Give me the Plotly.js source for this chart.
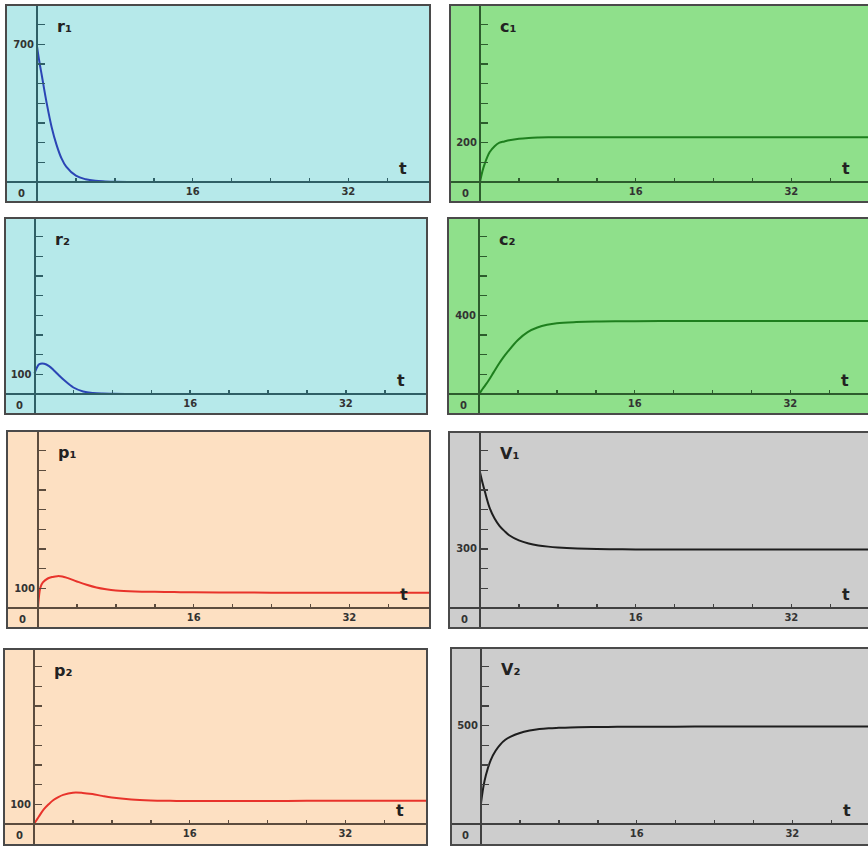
<!DOCTYPE html>
<html><head><meta charset="utf-8">
<script src="https://cdn.plot.ly/plotly-3.0.1.min.js"></script>
<style>html,body{margin:0;padding:0;background:#fff}#chart{width:868px;height:847px}</style>
</head><body><div id="chart"></div>
<script>
// ---- data ----
const t  = [0, 0.25, 0.5, 1, 1.5, 2, 2.5, 3, 4, 5, 6, 7, 8, 10, 12, 14, 16, 20, 24, 28, 32, 36, 41];
const r1 = [690, 610, 540, 400, 280, 190, 122, 78, 32, 14, 6, 3, 1, 0, 0, 0, 0, 0, 0, 0, 0, 0, 0];
const r2 = [105, 135, 152, 154, 142, 120, 95, 72, 33, 13, 5, 2, 1, 0, 0, 0, 0, 0, 0, 0, 0, 0, 0];
const c1 = [0, 55, 95, 152, 182, 200, 206, 212, 220, 224, 226, 227, 227, 227, 227, 227, 227, 227, 227, 227, 227, 227, 227];
const c2 = [0, 17, 35, 70, 110, 150, 186, 218, 275, 315, 338, 352, 360, 366, 369, 370, 370, 371, 371, 371, 371, 371, 371];
const p1 = [0, 105, 130, 150, 158, 162, 160, 153, 135, 118, 104, 95, 89, 84, 82, 81, 80, 79, 78, 78, 78, 78, 78];
const p2 = [0, 19, 38, 74, 100, 122, 137, 148, 159, 158, 152, 143, 135, 125, 120, 118, 117, 117, 117, 118, 118, 118, 118];
const V1 = [690, 638, 592, 508, 455, 418, 392, 370, 344, 328, 318, 312, 308, 303, 300, 299, 298, 298, 298, 298, 298, 298, 298];
const V2 = [105, 190, 248, 325, 372, 405, 428, 443, 463, 475, 483, 487, 489, 492, 493, 494, 494, 495, 496, 496, 496, 496, 496];

const seriesNames  = ['r₁', 'c₁', 'r₂', 'c₂', 'p₁', 'V₁', 'p₂', 'V₂'];
const seriesData   = [r1, c1, r2, c2, p1, V1, p2, V2];
const yLabelled    = [700, 200, 100, 400, 100, 300, 100, 500];
const xLabelTicks  = [16, 32];
const xMinorTicks  = [4, 8, 12, 20, 24, 28, 36];
const yMinorTicks  = [100, 200, 300, 400, 500, 600, 700, 800];
const originLabel  = '0';
const timeLabel    = 't';

// ---- styling / geometry ----
const W = 868, H = 847;
const SX = 9.73, SY = 0.1967; // px per unit
const themes = {
  r: {bg: '#b6e9ea', axis: '#2f5f66', line: '#2b45b5'},
  c: {bg: '#8fe08b', axis: '#2d5c2d', line: '#1e7f1e'},
  p: {bg: '#fde0c2', axis: '#5c4c3e', line: '#e8332b'},
  V: {bg: '#cdcdcd', axis: '#404040', line: '#1e1e1e'}
};
const panels = [
  {th: 'r', L: 6,   R: 430, T: 5,   B: 202, ax: 37,   ay: 182, right: false},
  {th: 'c', L: 450, R: 868, T: 5,   B: 202, ax: 480,  ay: 182, right: true},
  {th: 'r', L: 5,   R: 427, T: 218, B: 414, ax: 34.5, ay: 394, right: false},
  {th: 'c', L: 448, R: 868, T: 218, B: 414, ax: 479,  ay: 394, right: true},
  {th: 'p', L: 7,   R: 430, T: 431, B: 628, ax: 38,   ay: 608, right: false},
  {th: 'V', L: 449, R: 868, T: 432, B: 628, ax: 480,  ay: 608, right: true},
  {th: 'p', L: 4,   R: 427, T: 649, B: 845, ax: 34,   ay: 824, right: false},
  {th: 'V', L: 451, R: 868, T: 648, B: 845, ax: 481,  ay: 824, right: true}
];
const fx = x => x / W, fy = y => 1 - y / H;
const FONT = 'DejaVu Sans, Verdana, sans-serif';

const data = [], shapes = [], annotations = [];
const layout = {width: W, height: H, margin: {l: 0, r: 0, t: 0, b: 0},
  paper_bgcolor: '#ffffff', plot_bgcolor: 'rgba(0,0,0,0)', showlegend: false};

panels.forEach((p, i) => {
  const n = i === 0 ? '' : String(i + 1);
  const th = themes[p.th];
  data.push({x: t, y: seriesData[i], xaxis: 'x' + n, yaxis: 'y' + n, mode: 'lines',
    line: {color: th.line, width: 2, shape: 'spline', smoothing: 1}, hoverinfo: 'skip'});
  layout['xaxis' + n] = {
    domain: [fx(p.L), fx(p.R)], range: [-(p.ax - p.L) / SX, (p.R - p.ax) / SX],
    anchor: 'free', position: fy(p.ay), side: 'bottom',
    showline: true, linecolor: th.axis, linewidth: 2,
    ticks: 'inside', ticklen: 3, tickwidth: 1.5, tickcolor: th.axis,
    tickmode: 'array', tickvals: xLabelTicks, ticktext: xLabelTicks.map(v => '<b>' + v + '</b>'),
    minor: {ticks: 'inside', ticklen: 3, tickwidth: 1.5, tickcolor: th.axis, tickmode: 'array', tickvals: xMinorTicks, showgrid: false},
    tickfont: {family: FONT, size: 10, color: '#333'},
    showgrid: false, zeroline: false, fixedrange: true
  };
  layout['yaxis' + n] = {
    domain: [fy(p.B), fy(p.T)], range: [-(p.B - p.ay) / SY, (p.ay - p.T) / SY],
    anchor: 'free', position: fx(p.ax), side: 'left',
    showline: true, linecolor: th.axis, linewidth: 2,
    ticks: 'inside', ticklen: 7, tickwidth: 1.5, tickcolor: th.axis,
    tickmode: 'array', tickvals: [yLabelled[i]], ticktext: ['<b>' + yLabelled[i] + '</b>'],
    minor: {ticks: 'inside', ticklen: 7, tickwidth: 1.5, tickcolor: th.axis, tickmode: 'array', tickvals: yMinorTicks, showgrid: false},
    tickfont: {family: FONT, size: 10, color: '#333'},
    showgrid: false, zeroline: false, fixedrange: true
  };
  shapes.push({type: 'rect', xref: 'paper', yref: 'paper', x0: fx(p.L), x1: fx(p.R), y0: fy(p.B), y1: fy(p.T),
    fillcolor: th.bg, line: {width: 0}, layer: 'below'});
  if (p.right) {
    shapes.push({type: 'path', xref: 'paper', yref: 'paper',
      path: `M ${fx(p.R)},${fy(p.T)} L ${fx(p.L)},${fy(p.T)} L ${fx(p.L)},${fy(p.B)} L ${fx(p.R)},${fy(p.B)}`,
      line: {color: '#4a4a4a', width: 2}, layer: 'above'});
  } else {
    shapes.push({type: 'rect', xref: 'paper', yref: 'paper', x0: fx(p.L), x1: fx(p.R), y0: fy(p.B), y1: fy(p.T),
      line: {color: '#4a4a4a', width: 2}, fillcolor: 'rgba(0,0,0,0)', layer: 'above'});
  }
  annotations.push({xref: 'paper', yref: 'paper', x: fx(p.ax + 18), y: fy(p.T + 21), xanchor: 'left', yanchor: 'middle',
    text: '<b>' + seriesNames[i] + '</b>', showarrow: false, font: {family: FONT, size: 16, color: '#222'}});
  annotations.push({xref: 'paper', yref: 'paper', x: fx(p.ax + 366), y: fy(p.ay - 14), xanchor: 'center', yanchor: 'middle',
    text: '<b>' + timeLabel + '</b>', showarrow: false, font: {family: FONT, size: 16, color: '#222'}});
  annotations.push({xref: 'paper', yref: 'paper', x: fx((p.L + p.ax) / 2), y: fy(p.ay + 11), xanchor: 'center', yanchor: 'middle',
    text: '<b>' + originLabel + '</b>', showarrow: false, font: {family: FONT, size: 10, color: '#333'}});
});
layout.shapes = shapes;
layout.annotations = annotations;
Plotly.newPlot('chart', data, layout, {displayModeBar: false, staticPlot: true});
</script></body></html>
